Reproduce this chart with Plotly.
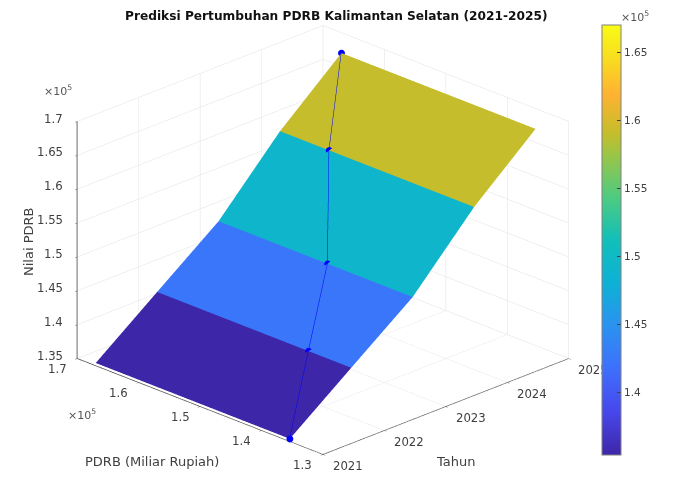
import plotly.graph_objects as go

tahun = [2021, 2022, 2023, 2024, 2025]
pdrb = [135400, 142350, 149250, 159000, 167000]
x_ticks = [130000, 140000, 150000, 160000, 170000]
x_labels = ["1.3", "1.4", "1.5", "1.6", "1.7"]
z_ticks = [135000, 140000, 145000, 150000, 155000, 160000, 165000, 170000]
z_labels = ["1.35", "1.4", "1.45", "1.5", "1.55", "1.6", "1.65", "1.7"]
cb_ticks = [140000, 145000, 150000, 155000, 160000, 165000]
cb_labels = ["1.4", "1.45", "1.5", "1.55", "1.6", "1.65"]
colors = [[0.0, "#3e26a8"], [0.1, "#4747eb"], [0.2, "#3e6ffc"], [0.3, "#2b92f0"], [0.4, "#0db1d6"],
          [0.5, "#12bfb9"], [0.6, "#4ecb80"], [0.7, "#9cc545"], [0.75, "#c6bd2a"], [0.84, "#ffb232"],
          [0.92, "#f8dc20"], [1.0, "#f9fb15"]]

# the page body adds an 8 px margin, so paper positions are given relative to it
def px(v):
    return (v - 8) / 680
def py(v):
    return 1 - (v - 8) / 494

# Flat-shaded ribbon: two vertices per year spanning the PDRB range
vx, vy, vz = [], [], []
for t, v in zip(tahun, pdrb):
    vx += [min(pdrb), max(pdrb)]
    vy += [t, t]
    vz += [v, v]
ii, jj, kk, cell = [], [], [], []
for n in range(len(tahun) - 1):
    a = 2 * n
    ii += [a, a]
    jj += [a + 1, a + 3]
    kk += [a + 3, a + 2]
    cell += [pdrb[n], pdrb[n]]

tick_font = dict(family="DejaVu Sans", size=11.7, color="#404040")
title_font = dict(family="DejaVu Sans", size=13, color="#404040")
mult_font = dict(family="DejaVu Sans", size=11, color="#555555")

def axis(color, width, **kw):
    return dict(title=dict(text=""), showticklabels=False,
                showbackground=False, showgrid=True, gridcolor="#e0e0e0", gridwidth=1,
                showline=True, linecolor=color, linewidth=width, zeroline=False,
                ticks="outside", ticklen=3, tickcolor="#5a5a5a", showspikes=False, **kw)

fig = go.Figure()
fig.add_trace(go.Mesh3d(
    x=vx, y=vy, z=vz, i=ii, j=jj, k=kk, intensity=cell, intensitymode="cell",
    colorscale=colors, cmin=135400, cmax=167000, flatshading=True,
    lighting=dict(ambient=1, diffuse=0, specular=0, roughness=1, fresnel=0),
    colorbar=dict(tickvals=cb_ticks, ticktext=cb_labels, ticks="inside", ticklen=4,
                  tickcolor="#404040", tickfont=dict(family="DejaVu Sans", size=10.5, color="#404040"),
                  outlinecolor="#808080", outlinewidth=1,
                  thicknessmode="pixels", thickness=19, lenmode="pixels", len=430,
                  x=px(602), xanchor="left", xpad=0, y=py(25), yanchor="top", ypad=0),
))
fig.add_trace(go.Scatter3d(
    x=pdrb, y=tahun, z=pdrb, mode="lines+markers",
    line=dict(color="#0000ff", width=2), marker=dict(color="#0000ff", size=4, symbol="circle"),
    showlegend=False,
))

scene_notes = []
for v, s in zip(x_ticks, x_labels):
    scene_notes.append(dict(x=v, y=tahun[0], z=z_ticks[0], text=s, showarrow=False, font=tick_font,
                            xanchor="center", yanchor="middle", xshift=-20, yshift=-10))
for t in tahun:
    scene_notes.append(dict(x=x_ticks[0], y=t, z=z_ticks[0], text=str(t), showarrow=False, font=tick_font,
                            xanchor="center", yanchor="middle", xshift=25, yshift=-11))
for v, s in zip(z_ticks, z_labels):
    scene_notes.append(dict(x=x_ticks[-1], y=tahun[0], z=v, text=s, showarrow=False, font=tick_font,
                            xanchor="right", yanchor="middle", xshift=-12, yshift=3))

def note(text, x, y, font, **kw):
    return dict(text=text, x=px(x), y=py(y), xref="paper", yref="paper", showarrow=False, font=font,
                xanchor="center", yanchor="middle", **kw)

fig.update_layout(
    width=680, height=494, margin=dict(l=0, r=0, t=0, b=0), paper_bgcolor="white",
    font=dict(family="DejaVu Sans"), showlegend=False,
    scene=dict(
        domain=dict(x=[0, 0.926], y=[0.06, 1]),
        xaxis=axis("#404040", 1.5, range=[170000, 130000], tickvals=x_ticks),
        yaxis=axis("#404040", 1.5, range=[2021, 2025], tickvals=tahun),
        zaxis=axis("#808080", 3, range=[135000, 170000], tickvals=z_ticks),
        aspectmode="manual", aspectratio=dict(x=1.498, y=1.498, z=1.11),
        camera=dict(projection=dict(type="orthographic"), up=dict(x=0, y=0, z=1),
                    center=dict(x=0, y=0, z=0),
                    eye=dict(x=1.196, y=-1.196, z=0.7176)),
        annotations=scene_notes,
    ),
    annotations=[
        note("<b>Prediksi Pertumbuhan PDRB Kalimantan Selatan (2021-2025)</b>", 336, 16,
             dict(family="DejaVu Sans", size=12.2, color="#111111")),
        note("PDRB (Miliar Rupiah)", 152, 461, title_font),
        note("Tahun", 455, 461, title_font),
        note("Nilai PDRB", 29, 242, title_font, textangle=-90),
        note("×10<sup>5</sup>", 58, 91, mult_font),
        note("×10<sup>5</sup>", 82, 414, mult_font),
        note("×10<sup>5</sup>", 635, 16, mult_font),
    ],
)
# keep the colour bar in front of the 2025 tick label, as in the reference
raise_colorbar = """
function raiseBar() {
  var bar = document.querySelector('.infolayer .colorbar');
  if (bar) { bar.parentNode.appendChild(bar); }
}
setTimeout(raiseBar, 200);
setTimeout(raiseBar, 800);
"""
fig.write_html("out.html", post_script=raise_colorbar)
